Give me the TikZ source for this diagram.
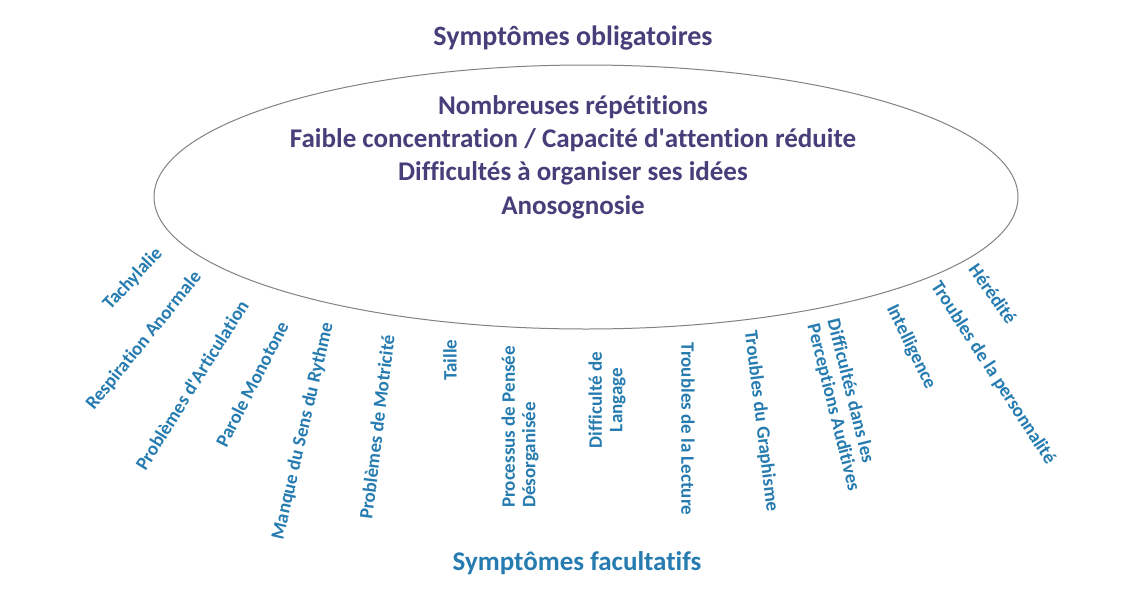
\documentclass[tikz,border=0pt]{standalone}
\usepackage{fontspec}
\setmainfont{Carlito}[Ligatures=CommonOff]
\definecolor{purp}{RGB}{72,62,122}
\definecolor{lblue}{RGB}{38,124,176}
\definecolor{ring}{RGB}{130,130,130}
\begin{document}
\begin{tikzpicture}[x=1pt,y=-1pt,
  head/.style={font=\fontsize{28}{32}\selectfont\bfseries, text=purp, inner sep=0pt},
  core/.style={font=\fontsize{27}{33.3}\selectfont\bfseries, text=purp, align=center, inner sep=0pt},
  lab/.style={font=\fontsize{19}{20.5}\selectfont\bfseries, text=lblue, inner sep=0pt},
  foot/.style={font=\fontsize{27}{30}\selectfont\bfseries, text=lblue, inner sep=0pt}]
\useasboundingbox (0,0) rectangle (1130,595);
\fill[white] (0,0) rectangle (1130,595);
\node[head] (obl) at (573,38) {Symptômes obligatoires};
\draw[ring, line width=1pt] (586,197) ellipse [x radius=432, y radius=132];
\node[core] (main) at (573,157) {Nombreuses répétitions\\Faible concentration / Capacité d\textquotesingle attention réduite\\Difficultés à organiser ses idées\\Anosognosie};
\node[lab, rotate=47] (l1) at (133,279) {Tachylalie};
\node[lab, rotate=51] (l2) at (144,341) {Respiration Anormale};
\node[lab, rotate=58] (l3) at (192,385) {Problèmes d\textquotesingle Articulation};
\node[lab, rotate=63] (l4) at (252,384) {Parole Monotone};
\node[lab, rotate=77] (l5) at (303,431) {Manque du Sens du Rythme};
\node[lab, rotate=83] (l6) at (377,427) {Problèmes de Motricité};
\node[lab, rotate=90] (l7) at (450,360) {Taille};
\node[lab, rotate=90, align=left, anchor=west] (l8) at (520,508) {Processus de Pensée\\Désorganisée};
\node[lab, rotate=90, align=center] (l9) at (607,400) {Difficulté de\\Langage};
\node[lab, rotate=-90] (l10) at (688,429) {Troubles de la Lecture};
\node[lab, rotate=-83] (l11) at (761,421) {Troubles du Graphisme};
\node[lab, rotate=-76, align=left] (l12) at (843,405) {Difficultés dans les\\Perceptions Auditives};
\node[lab, rotate=-64] (l13) at (911,347) {Intelligence};
\node[lab, rotate=-57] (l14) at (993,373) {Troubles de la personnalité};
\node[lab, rotate=-55] (l15) at (993,294) {Hérédité};
\node[foot] (fac) at (577,563) {Symptômes facultatifs};
\end{tikzpicture}
\end{document}
